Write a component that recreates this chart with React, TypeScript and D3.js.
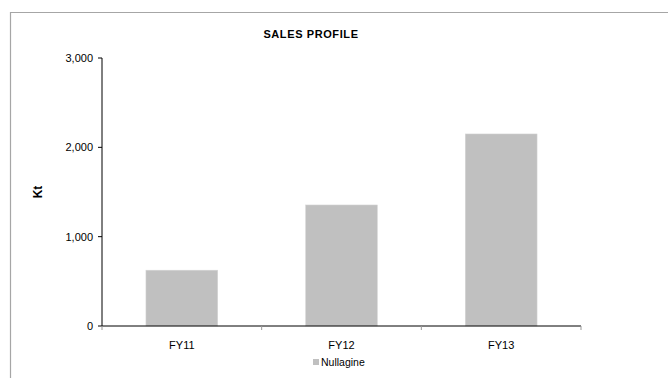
import React from "react";
import * as d3 from "d3";

const categories = ["FY11", "FY12", "FY13"];
const values = [625, 1355, 2150];
const yTicks = [0, 1000, 2000, 3000];
const seriesName = "Nullagine";
const title = "SALES PROFILE";
const yLabel = "Kt";

export default function App() {
  const W = 668, H = 378;
  const left = 102, right = 581, top = 58, bottom = 326;
  const x = d3.scaleBand<string>().domain(categories).range([left, right]).paddingInner(0.55).paddingOuter(0.275);
  const xOuter = d3.scaleBand<string>().domain(categories).range([left, right]);
  const y = d3.scaleLinear().domain([0, 3000]).range([bottom, top]);
  const fmt = d3.format(",");
  const font = "'Liberation Sans', Arial, sans-serif";
  return (
    <svg width={W} height={H} style={{ position: "absolute", left: 0, top: 0 }} fontFamily={font}>
      <rect x={0} y={0} width={W} height={H} fill="#fff" />
      <line x1={10} y1={12.5} x2={W} y2={12.5} stroke="#a6a6a6" strokeWidth={1.2} />
      <line x1={10.5} y1={12} x2={10.5} y2={H} stroke="#a6a6a6" strokeWidth={1.2} />
      <text x={311} y={38} textAnchor="middle" fontSize={11} fontWeight="bold" letterSpacing={0.6} fill="#000">{title}</text>
      {values.map((v, i) => (
        <rect key={categories[i]} x={x(categories[i])!} y={y(v)} width={x.bandwidth()} height={bottom - y(v)} fill="#c0c0c0" stroke="#d8d8d8" strokeWidth={0.5} />
      ))}
      <line x1={left} y1={top} x2={left} y2={bottom} stroke="#000" strokeWidth={1} />
      {yTicks.map((t) => (
        <g key={t}>
          <line x1={left - 4} y1={y(t)} x2={left} y2={y(t)} stroke="#000" />
          <text x={left - 9} y={y(t) + 4} textAnchor="end" fontSize={11} fill="#000">{fmt(t)}</text>
        </g>
      ))}
      <line x1={left} y1={bottom} x2={right} y2={bottom} stroke="#000" strokeWidth={1} />
      {[...categories.map((c) => xOuter(c)!), right].map((tx, i) => (
        <line key={i} x1={tx} y1={bottom} x2={tx} y2={bottom + 4} stroke="#999" />
      ))}
      {categories.map((c) => (
        <text key={c} x={xOuter(c)! + xOuter.bandwidth() / 2} y={349} textAnchor="middle" fontSize={11} fill="#000">{c}</text>
      ))}
      <text transform={`translate(42,${(top + bottom) / 2}) rotate(-90)`} textAnchor="middle" fontSize={12} fontWeight="bold" fill="#000">{yLabel}</text>
      <rect x={313} y={359} width={6} height={6} fill="#c0c0c0" />
      <text x={321} y={366} fontSize={10.5} fill="#000">{seriesName}</text>
    </svg>
  );
}
